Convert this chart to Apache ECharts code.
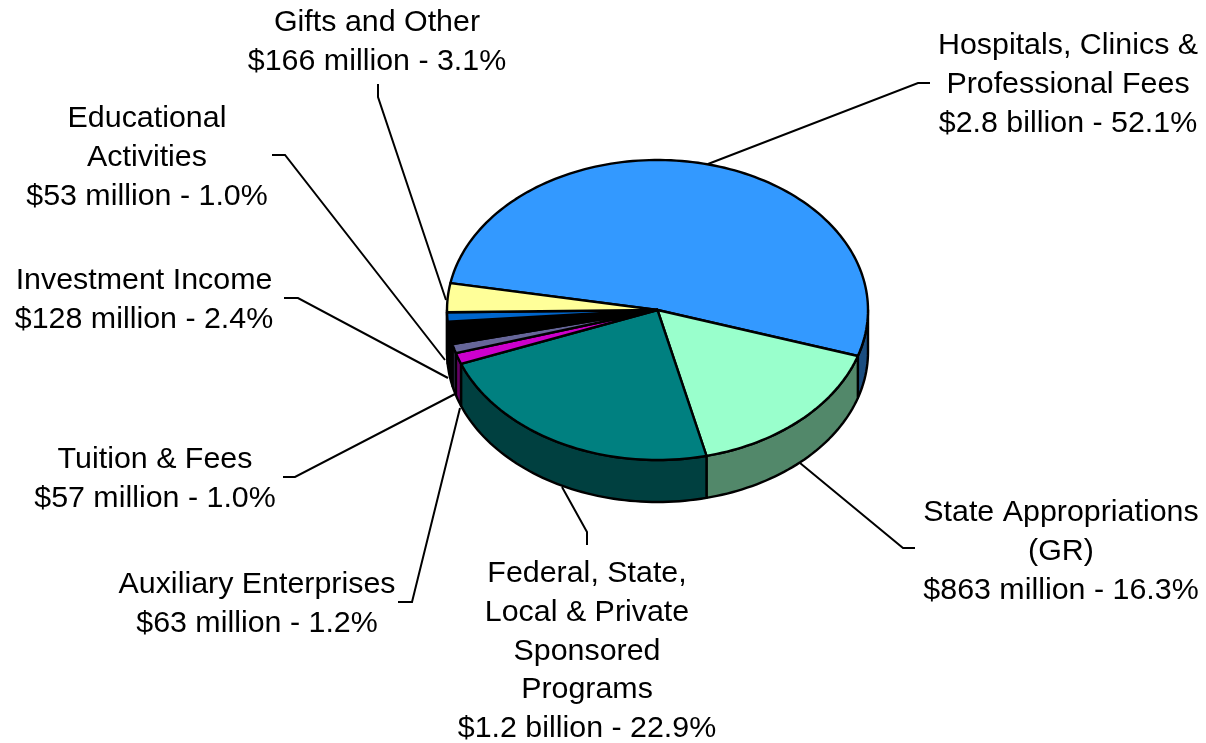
<!DOCTYPE html>
<html><head><meta charset="utf-8">
<style>html,body{margin:0;padding:0;background:#fff}#c{width:1206px;height:743px}</style>
<script src="https://cdn.jsdelivr.net/npm/echarts@6/dist/echarts.min.js"></script>
</head><body><div id="c"></div>
<script>
// Data
const categories = ['Hospitals, Clinics &\nProfessional Fees','State Appropriations\n(GR)','Federal, State,\nLocal & Private\nSponsored\nPrograms','Auxiliary Enterprises','Tuition & Fees','Investment Income','Educational\nActivities','Gifts and Other'];
const amounts = ['$2.8 billion','$863 million','$1.2 billion','$63 million','$57 million','$128 million','$53 million','$166 million'];
const percents = [52.1,16.3,22.9,1.2,1.0,2.4,1.0,3.1];

// Styles and layout
const topColors = ['#3399FF','#99FFCC','#008080','#CC00CC','#666699','#000000','#0066CC','#FFFF99'];
const sideColors = ['#1A4D80','#52886A','#004040','#660066','#333350','#000000','#003366','#808050'];
const pie = {cx:657.5, cy:310, a:210.5, b:150, depth:42, startDeg:-169.7};
const labelPos = [[1068,46],[1061,513],[587,574],[257,585],[155,460],[144,281],[147,119],[377,23]];
const leaders = [
 [[708,164],[918,83],[930,83]],
 [[800,463],[903,548],[915,548]],
 [[562,487],[587,532],[587,545]],
 [[460,408],[412,602],[398,602]],
 [[455,394],[295,477],[283,477]],
 [[448,378],[298,298],[284,298]],
 [[445,360],[285,155],[272,155]],
 [[446,300],[378,97],[378,84]]
];
const FONT = '"Liberation Sans", Arial, sans-serif';
const FS = 30.4, LH = 38.6;

const total = percents.reduce((s,v)=>s+v,0);
let acc = pie.startDeg;
const spans = percents.map(v=>{const s=acc; acc+=v/total*360; return [s,acc];});
const pt = (deg,dy)=>{const r=deg*Math.PI/180;return [pie.cx+pie.a*Math.cos(r),pie.cy+pie.b*Math.sin(r)+(dy||0)];};
function arc(s,e,dy){const n=Math.max(2,Math.ceil(Math.abs(e-s)/1.5));const out=[];for(let i=0;i<=n;i++)out.push(pt(s+(e-s)*i/n,dy));return out;}

const seriesData = percents.map((v,i)=>({name:categories[i],value:v}));
const stroke = {stroke:'#000',lineWidth:2.4,lineJoin:'round'};

const option = {
 animation:false,
 backgroundColor:'#fff',
 series:[
 {type:'custom',coordinateSystem:'none',silent:true,z:1,data:seriesData,
  renderItem(p,api){return {type:'polyline',shape:{points:leaders[p.dataIndex]},style:{stroke:'#000',lineWidth:2,fill:null}};}},
 {type:'custom',coordinateSystem:'none',silent:true,z:2,data:seriesData,
  renderItem(p,api){
   const [s0,e0]=spans[p.dataIndex];
   const s=Math.max(s0,0), e=Math.min(e0,180);
   if(e<=s) return {type:'group',children:[]};
   const pts=arc(s,e,0).concat(arc(e,s,pie.depth));
   return {type:'polygon',shape:{points:pts},style:Object.assign({fill:sideColors[p.dataIndex]},stroke)};
  }},
 {type:'custom',coordinateSystem:'none',silent:true,z:3,data:seriesData,
  renderItem(p,api){
   const [s,e]=spans[p.dataIndex];
   const pts=[[pie.cx,pie.cy]].concat(arc(s,e,0));
   return {type:'polygon',shape:{points:pts},style:Object.assign({fill:topColors[p.dataIndex]},stroke)};
  }},
 {type:'custom',coordinateSystem:'none',silent:true,z:4,data:seriesData,
  renderItem(p,api){
   const i=p.dataIndex;
   const lines=categories[i].split('\n').concat([amounts[i]+' - '+percents[i].toFixed(1)+'%']);
   return {type:'group',children:lines.map((t,k)=>({type:'text',style:{text:t,x:labelPos[i][0],y:labelPos[i][1]+k*LH,align:'center',verticalAlign:'middle',fill:'#000',font:FS+'px '+FONT}}))};
  }}
 ]
};
const chart = echarts.init(document.getElementById('c'),null,{renderer:'canvas'});
chart.setOption(option);
</script></body></html>
